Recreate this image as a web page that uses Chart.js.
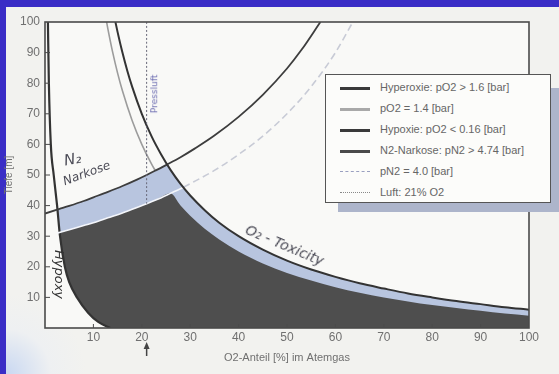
<!DOCTYPE html>
<html>
<head>
<meta charset="utf-8">
<script src="https://cdn.jsdelivr.net/npm/chart.js@4.4.0/dist/chart.umd.min.js"></script>
<style>
body { margin: 0; width: 559px; height: 374px; overflow: hidden; position: relative; background: #3a2dc6; font-family: "Liberation Sans", Arial, sans-serif; }
#paper { position: absolute; left: 6px; top: 7px; width: 553px; height: 367px;
  background: radial-gradient(circle at 0 100%, #c9d8f2 0, #eef0f2 45px, #f2f2ef 80px); }
#c { position: absolute; left: 0; top: 0; }
#shadow { position: absolute; left: 338px; top: 88px; width: 221px; height: 124px; background: #adb5cb; }
#legend { position: absolute; left: 325px; top: 74px; width: 226px; height: 129px; box-sizing: border-box;
  border: 1.5px solid #555; background: #fcfcfa; }
.row { position: absolute; left: 0; height: 21px; line-height: 21px; font-size: 11px; color: #666; white-space: nowrap; }
.row span.txt { position: absolute; left: 54px; }
.row span.smp { position: absolute; left: 14px; top: 10px; width: 30px; height: 0; }
.note { position: absolute; font-family: "DejaVu Sans", sans-serif; font-style: oblique; color: #4a4a55; white-space: nowrap; }
</style>
</head>
<body>
<div id="paper"></div>
<canvas id="c" width="559" height="374"></canvas>
<div id="shadow"></div>
<div id="legend">
  <div class="row" style="top:2px"><span class="smp" style="border-top:3px solid #3a3a3a"></span><span class="txt">Hyperoxie: pO2 &gt; 1.6 [bar]</span></div>
  <div class="row" style="top:23px"><span class="smp" style="border-top:3px solid #a9a9a9"></span><span class="txt">pO2 = 1.4 [bar]</span></div>
  <div class="row" style="top:44px"><span class="smp" style="border-top:3px solid #3a3a3a"></span><span class="txt">Hypoxie: pO2 &lt; 0.16 [bar]</span></div>
  <div class="row" style="top:65px"><span class="smp" style="border-top:3px solid #4a4a4a"></span><span class="txt">N2-Narkose: pN2 &gt; 4.74 [bar]</span></div>
  <div class="row" style="top:86px"><span class="smp" style="border-top:1px dashed #9aa0c0"></span><span class="txt">pN2 = 4.0 [bar]</span></div>
  <div class="row" style="top:107px"><span class="smp" style="border-top:1px dotted #888"></span><span class="txt">Luft: 21% O2</span></div>
</div>
<div class="note" style="left:64px;top:150px;font-size:15px;transform:rotate(-10deg)">N₂</div>
<div class="note" style="left:62px;top:166px;font-size:12px;transform:rotate(-20deg)">Narkose</div>
<div class="note" style="left:35px;top:267px;font-size:13px;color:#333;transform:rotate(90deg)">Hypoxy</div>
<div class="note" style="left:243px;top:237px;font-size:14px;transform:rotate(23deg)">O₂ - Toxicity</div>
<div class="note" style="left:135px;top:89px;font-size:9px;color:#6a6ab0;font-style:normal;transform:rotate(-90deg)">Pressluft</div>
<script>
// O2-Anteil [%] and Tiefe [m]
var hyperoxO2 = [14.55, 15, 16, 17, 18, 20, 22, 24, 26, 28, 30, 33, 36, 40, 45, 50, 55, 60, 65, 70, 75, 80, 85, 90, 95, 100];
var hyperoxDepth = [100, 96.7, 90, 84.1, 78.9, 70, 62.7, 56.7, 51.5, 47.1, 43.3, 38.5, 34.4, 30, 25.6, 22, 19.1, 16.7, 14.6, 12.9, 11.3, 10, 8.8, 7.8, 6.8, 6];

var po14O2 = [12.73, 13, 14, 15, 16, 18, 20, 22, 22.8];
var po14Depth = [100, 97.7, 90, 83.3, 77.5, 67.8, 60, 53.6, 51.4];

var hypoxO2 = [0.6, 0.8, 1.2, 1.8, 2.5, 3.1, 4.1, 5, 6.6, 8.9, 11, 13.5];
var hypoxDepth = [100, 80, 60, 50, 40, 30, 20, 15, 10, 5, 2, 0];

var narkO2 = [0, 3, 5, 8, 10, 13, 16, 19, 21, 23, 25.2, 28, 31, 35, 40, 45, 50, 53, 56.9];
var narkDepth = [37.4, 38.9, 39.9, 41.5, 42.7, 44.5, 46.4, 48.5, 50, 51.6, 53.4, 55.8, 58.7, 62.9, 69, 76.2, 84.8, 90.9, 100];

var pn40O2 = [2.5, 5, 8, 10, 13, 16, 19, 21, 23, 25.9, 28.6, 31, 35, 40, 45, 50, 55, 60, 63.6];
var pn40Depth = [31, 32.1, 33.5, 34.4, 36, 37.6, 39.4, 40.6, 41.9, 44, 46, 48, 51.5, 56.7, 62.7, 70, 78.9, 90, 100];

// light band (up to pN2 4.74 / pO2 1.6) and dark zone (up to pN2 4.0 / pO2 1.4)
var bandO2 = [2.5, 5, 8, 10, 13, 16, 19, 21, 23, 25.2, 26, 28, 30, 33, 36, 40, 45, 50, 55, 60, 65, 70, 75, 80, 85, 90, 95, 100];
var bandDepth = [38.6, 39.9, 41.5, 42.7, 44.5, 46.4, 48.5, 50, 51.6, 53.4, 51.5, 47.1, 43.3, 38.5, 34.4, 30, 25.6, 22, 19.1, 16.7, 14.6, 12.9, 11.3, 10, 8.8, 7.8, 6.8, 6];
var safeO2 = [2.5, 5, 8, 10, 13, 16, 19, 21, 23, 25.9, 28, 30, 33, 36, 40, 45, 50, 55, 60, 65, 70, 75, 80, 85, 90, 95, 100];
var safeDepth = [31, 32.1, 33.5, 34.4, 36, 37.6, 39.4, 40.6, 41.9, 44, 40, 36.7, 32.4, 28.9, 25, 21.1, 18, 15.5, 13.3, 11.5, 10, 8.7, 7.5, 6.5, 5.6, 4.7, 4];

var luftO2 = [21, 21];
var luftDepth = [100, 40.6];

var xTicks = [10, 20, 30, 40, 50, 60, 70, 80, 90, 100];
var yTicks = [10, 20, 30, 40, 50, 60, 70, 80, 90, 100];

var plotBg = '#f9f9f7';

function pts(xs, ys) {
    return xs.map(function(x, i) { return { x: x, y: ys[i] }; });
}

var plotFrame = {
    id: 'plotFrame',
    beforeDatasetsDraw: function(chart) {
        var a = chart.chartArea, ctx = chart.ctx;
        ctx.save();
        ctx.fillStyle = plotBg;
        ctx.fillRect(a.left, a.top, a.right - a.left, a.bottom - a.top);
        ctx.restore();
    },
    afterDatasetsDraw: function(chart) {
        var a = chart.chartArea, ctx = chart.ctx, sx = chart.scales.x, sy = chart.scales.y;
        ctx.save();
        ctx.strokeStyle = '#4a4a4a';
        ctx.lineWidth = 1.6;
        ctx.strokeRect(a.left, a.top, a.right - a.left, a.bottom - a.top);
        ctx.lineWidth = 1;
        for (var v = 10; v < 100; v += 10) {
            ctx.beginPath();
            ctx.moveTo(sx.getPixelForValue(v), a.bottom);
            ctx.lineTo(sx.getPixelForValue(v), a.bottom - 4);
            ctx.moveTo(a.left, sy.getPixelForValue(v));
            ctx.lineTo(a.left + 5, sy.getPixelForValue(v));
            ctx.stroke();
        }
        // arrow below the air mark
        var ax = sx.getPixelForValue(21);
        ctx.strokeStyle = '#444';
        ctx.fillStyle = '#444';
        ctx.lineWidth = 1.5;
        ctx.beginPath();
        ctx.moveTo(ax, a.bottom + 28);
        ctx.lineTo(ax, a.bottom + 19);
        ctx.stroke();
        ctx.beginPath();
        ctx.moveTo(ax, a.bottom + 14);
        ctx.lineTo(ax - 3, a.bottom + 21);
        ctx.lineTo(ax + 3, a.bottom + 21);
        ctx.closePath();
        ctx.fill();
        ctx.restore();
    }
};

new Chart(document.getElementById('c'), {
    type: 'line',
    data: {
        datasets: [
            { label: 'band', data: pts(bandO2, bandDepth), borderWidth: 0, backgroundColor: '#b8c5df', fill: 'origin', order: 10 },
            { label: 'safe', data: pts(safeO2, safeDepth), borderWidth: 0, backgroundColor: '#4e4e4e', fill: 'origin', order: 9 },
            { label: 'Hypoxie: pO2 < 0.16 [bar]', data: pts(hypoxO2, hypoxDepth), borderColor: '#333', borderWidth: 2.2, backgroundColor: plotBg, fill: 'origin', order: 8 },
            { label: 'pN2 = 4.0 [bar]', data: pts(pn40O2, pn40Depth), borderWidth: 1.6, fill: false, order: 5,
              segment: {
                  borderColor: function(ctx) { return ctx.p0.parsed.x >= 28.6 ? '#c8cbd6' : '#f4f6fb'; },
                  borderDash: function(ctx) { return ctx.p0.parsed.x >= 28.6 ? [7, 4] : undefined; }
              } },
            { label: 'pO2 = 1.4 [bar]', data: pts(po14O2, po14Depth), borderColor: '#9c9c9c', borderWidth: 1.6, fill: false, order: 4 },
            { label: 'Hyperoxie: pO2 > 1.6 [bar]', data: pts(hyperoxO2, hyperoxDepth), borderColor: '#333', borderWidth: 2, fill: false, order: 3 },
            { label: 'N2-Narkose: pN2 > 4.74 [bar]', data: pts(narkO2, narkDepth), borderColor: '#3d3d3d', borderWidth: 1.8, fill: false, order: 3 },
            { label: 'Luft: 21% O2', data: pts(luftO2, luftDepth), borderColor: '#666677', borderWidth: 1, borderDash: [2, 2], fill: false, order: 1 }
        ]
    },
    options: {
        responsive: false,
        animation: false,
        layout: { padding: { top: 22, right: 30, left: 0, bottom: 0 } },
        plugins: { legend: { display: false }, tooltip: { enabled: false } },
        elements: { point: { radius: 0 }, line: { cubicInterpolationMode: 'monotone' } },
        scales: {
            x: {
                type: 'linear', min: 0, max: 100,
                afterBuildTicks: function(s) { s.ticks = xTicks.map(function(v) { return { value: v }; }); },
                ticks: { color: '#707070', font: { size: 12, family: 'Liberation Sans' }, padding: 2, maxRotation: 0 },
                grid: { display: false, drawTicks: false },
                border: { display: false },
                title: { display: true, text: 'O2-Anteil [%] im Atemgas', color: '#707070', font: { size: 11, family: 'Liberation Sans' }, padding: { top: 0, bottom: 9 } },
                afterFit: function(s) { s.height = 46; }
            },
            y: {
                type: 'linear', min: 0, max: 100,
                afterBuildTicks: function(s) { s.ticks = yTicks.map(function(v) { return { value: v }; }); },
                ticks: { color: '#707070', font: { size: 12, family: 'Liberation Sans' }, padding: 5 },
                grid: { display: false, drawTicks: false },
                border: { display: false },
                title: { display: true, text: 'Tiefe [m]', color: '#707070', font: { size: 10, family: 'Liberation Sans' }, padding: { top: 3, bottom: 0 } },
                afterFit: function(s) { s.width = 45; }
            }
        }
    },
    plugins: [plotFrame]
});
</script>
</body>
</html>
